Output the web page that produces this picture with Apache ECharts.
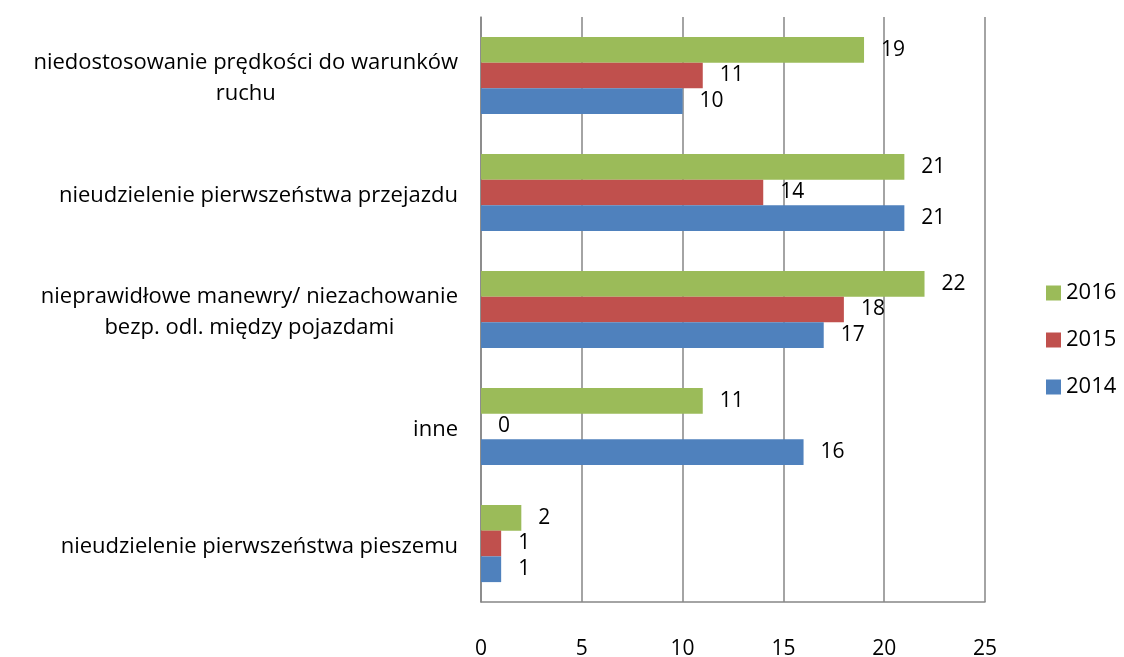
<!DOCTYPE html>
<html>
<head>
<meta charset="utf-8">
<script src="https://cdn.jsdelivr.net/npm/echarts@6/dist/echarts.min.js"></script>
<style>
  html, body { margin: 0; padding: 0; background: #fff; }
  #chart { width: 1124px; height: 657px; }
</style>
</head>
<body>
<div id="chart"></div>
<script>
// categories listed bottom -> top (category axis on y starts at the bottom)
var categories = [
  'nieudzielenie pierwszeństwa pieszemu',
  'inne',
  'nieprawidłowe manewry/ niezachowanie\nbezp. odl. między pojazdami',
  'nieudzielenie pierwszeństwa przejazdu',
  'niedostosowanie prędkości do warunków\nruchu'
];
var data2014 = [1, 16, 17, 21, 10];
var data2015 = [1, 0, 18, 14, 11];
var data2016 = [2, 11, 22, 21, 19];
var xTicks = { min: 0, max: 25, interval: 5 };

var font = '"Open Sans", "Noto Sans", sans-serif';
var gridColor = '#868686';

function barSeries(name, data, color) {
  return {
    name: name,
    type: 'bar',
    data: data,
    barGap: '0%',
    barCategoryGap: '34%',
    itemStyle: { color: color },
    label: {
      show: true,
      position: 'right',
      distance: 17,
      color: '#000',
      fontSize: 21,
      fontFamily: font
    }
  };
}

var option = {
  animation: false,
  textStyle: { fontFamily: font },
  legend: {
    data: ['2016', '2015', '2014'],
    orient: 'vertical',
    left: 1041,
    top: 277,
    itemWidth: 15,
    itemHeight: 15,
    itemGap: 25,
    icon: 'rect',
    textStyle: { color: '#000', fontSize: 22, fontFamily: font }
  },
  grid: {
    left: 481,
    right: 139,
    top: 17,
    bottom: 55,
    containLabel: false,
    outerBoundsMode: 'none'
  },
  xAxis: {
    type: 'value',
    min: xTicks.min,
    max: xTicks.max,
    interval: xTicks.interval,
    axisLine: { show: true, lineStyle: { color: gridColor, width: 1.5 } },
    axisTick: { show: false },
    axisLabel: { color: '#000', fontSize: 21, margin: 37, fontFamily: font },
    splitLine: { show: true, lineStyle: { color: gridColor, width: 1.5 } }
  },
  yAxis: {
    type: 'category',
    data: categories,
    axisLine: { show: true, lineStyle: { color: gridColor, width: 1.5 } },
    axisTick: { show: false },
    axisLabel: {
      margin: 23,
      align: 'right',
      padding: [6, 0, 0, 0],
      // each line centred under the longest one, block right-aligned to the axis
      formatter: function (v) {
        return v.split('\n').map(function (s) { return '{c|' + s + '}'; }).join('\n');
      },
      rich: {
        c: {
          align: 'center',
          color: '#000',
          fontSize: 22,
          lineHeight: 31,
          fontFamily: font
        }
      }
    }
  },
  // first series is drawn at the top of each band
  series: [
    barSeries('2016', data2016, '#9BBB59'),
    barSeries('2015', data2015, '#C0504D'),
    barSeries('2014', data2014, '#4F81BD')
  ]
};

var chart = echarts.init(document.getElementById('chart'));
chart.setOption(option);
window.addEventListener('resize', function () {
  chart.resize();
});
</script>
</body>
</html>
